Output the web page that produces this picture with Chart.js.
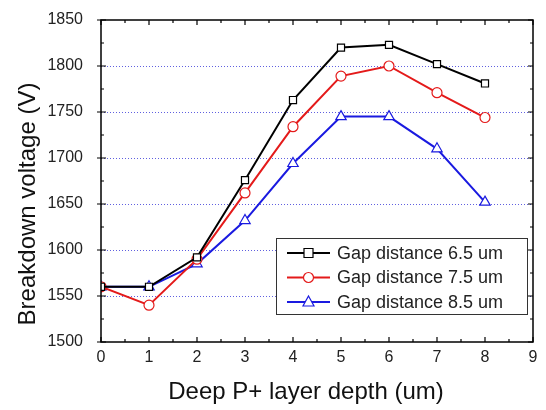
<!DOCTYPE html>
<html>
<head>
<meta charset="utf-8">
<script src="https://cdn.jsdelivr.net/npm/chart.js@4/dist/chart.umd.min.js"></script>
<style>
  html, body { margin: 0; padding: 0; background: #fff; }
  #wrap { width: 546px; height: 410px; }
</style>
</head>
<body>
<div id="wrap"><canvas id="bvChart" width="546" height="410"></canvas></div>
<script>
const depths = [0, 1, 2, 3, 4, 5, 6, 7, 8];
const gap65 = [1560, 1560, 1592, 1676, 1763, 1820, 1823, 1802, 1781];
const gap75 = [1560, 1540, 1590, 1662, 1734, 1789, 1800, 1771, 1744];
const gap85 = [1560, 1560, 1585, 1632, 1694, 1745, 1745, 1710, 1652];
const seriesLabels = ["Gap distance 6.5 um", "Gap distance 7.5 um", "Gap distance 8.5 um"];
const yTicks = [1500, 1550, 1600, 1650, 1700, 1750, 1800, 1850];
const xTicks = [0, 1, 2, 3, 4, 5, 6, 7, 8, 9];
const xTitle = "Deep P+ layer depth (um)";
const yTitle = "Breakdown voltage (V)";

const font = "'Liberation Sans', Arial, sans-serif";

function toPoints(vals) {
    return depths.map((d, i) => ({ x: d, y: vals[i] }));
}

// frame, inward ticks, axis titles and in-plot legend
const framePlugin = {
    id: "frame",
    afterDraw(chart) {
        const ctx = chart.ctx;
        const a = chart.chartArea;
        const xs = chart.scales.x;
        const ys = chart.scales.y;
        ctx.save();
        ctx.strokeStyle = "#000";
        ctx.lineWidth = 1.5;
        ctx.strokeRect(a.left, a.top, a.right - a.left, a.bottom - a.top);

        ctx.lineWidth = 1.2;
        ctx.beginPath();
        for (let v = 0; v <= 9; v += 0.5) {
            const px = xs.getPixelForValue(v);
            const len = Number.isInteger(v) ? 5 : 3;
            ctx.moveTo(px, a.bottom); ctx.lineTo(px, a.bottom - len);
            ctx.moveTo(px, a.top); ctx.lineTo(px, a.top + len);
        }
        for (let v = 1500; v <= 1850; v += 25) {
            const py = ys.getPixelForValue(v);
            const len = v % 50 === 0 ? 5 : 3;
            ctx.moveTo(a.left, py); ctx.lineTo(a.left + len, py);
            ctx.moveTo(a.right, py); ctx.lineTo(a.right - len, py);
            if (v % 50 === 0) { ctx.moveTo(a.left, py); ctx.lineTo(a.left - 4, py); }
        }
        ctx.stroke();

        // axis titles
        ctx.fillStyle = "#111";
        ctx.font = "24px " + font;
        ctx.textAlign = "center";
        ctx.textBaseline = "middle";
        ctx.fillText(xTitle, 306, 392);
        ctx.save();
        ctx.translate(28, 204);
        ctx.rotate(-Math.PI / 2);
        ctx.fillText(yTitle, 0, 0);
        ctx.restore();

        // legend box
        const bx = 276, by = 238, bw = 251, bh = 76;
        ctx.fillStyle = "#fff";
        ctx.fillRect(bx, by, bw, bh);
        ctx.strokeStyle = "#333";
        ctx.lineWidth = 1;
        ctx.strokeRect(bx + 0.5, by + 0.5, bw, bh);
        ctx.textAlign = "left";
        chart.data.datasets.forEach((ds, i) => {
            const cy = by + 15 + i * 24.5;
            ctx.strokeStyle = ds.borderColor;
            ctx.lineWidth = 2;
            ctx.beginPath();
            ctx.moveTo(bx + 11, cy); ctx.lineTo(bx + 54, cy);
            ctx.stroke();
            ctx.fillStyle = "#fff";
            ctx.lineWidth = 1.2;
            const mx = bx + 32.5;
            ctx.beginPath();
            if (ds.pointStyle === "rect") {
                ctx.rect(mx - 4.5, cy - 4.5, 9, 9);
            } else if (ds.pointStyle === "circle") {
                ctx.arc(mx, cy, 5, 0, Math.PI * 2);
            } else {
                ctx.moveTo(mx, cy - 6); ctx.lineTo(mx + 5.5, cy + 4); ctx.lineTo(mx - 5.5, cy + 4); ctx.closePath();
            }
            ctx.fill(); ctx.stroke();
            ctx.fillStyle = "#222";
            ctx.font = "18px " + font;
            ctx.textBaseline = "middle";
            ctx.fillText(ds.label, bx + 61, cy + 1);
        });
        ctx.restore();
    }
};

new Chart(document.getElementById("bvChart"), {
    type: "line",
    data: {
        datasets: [
            { label: seriesLabels[0], data: toPoints(gap65), borderColor: "#000", pointStyle: "rect", pointRadius: 5 },
            { label: seriesLabels[1], data: toPoints(gap75), borderColor: "#e41a1a", pointStyle: "circle", pointRadius: 5 },
            { label: seriesLabels[2], data: toPoints(gap85), borderColor: "#1a1ae0", pointStyle: "triangle", pointRadius: 6 }
        ].map(d => Object.assign(d, {
            backgroundColor: "#fff",
            pointBackgroundColor: "#fff",
            pointBorderWidth: 1.2,
            borderWidth: 2,
            tension: 0
        }))
    },
    options: {
        responsive: false,
        animation: false,
        layout: { padding: { top: 20, right: 13, left: 0, bottom: 0 } },
        plugins: { legend: { display: false }, tooltip: { enabled: false } },
        scales: {
            x: {
                type: "linear",
                min: 0, max: 9,
                afterBuildTicks: s => { s.ticks = xTicks.map(v => ({ value: v })); },
                afterFit: s => { s.height = 68; s.paddingLeft = 0; s.paddingRight = 0; },
                grid: { display: false, drawTicks: false },
                border: { display: false },
                ticks: { color: "#222", font: { family: font, size: 16 }, padding: 6, callback: v => String(v) }
            },
            y: {
                min: 1500, max: 1850,
                afterBuildTicks: s => { s.ticks = yTicks.map(v => ({ value: v })); },
                afterFit: s => { s.width = 101; s.paddingTop = 0; s.paddingBottom = 0; },
                grid: {
                    drawTicks: false,
                    color: ctx => (ctx.tick && ctx.tick.value > 1500 && ctx.tick.value < 1850) ? "#6060e0" : "rgba(0,0,0,0)",
                    lineWidth: 1
                },
                border: { display: false, dash: [1, 2] },
                ticks: { color: "#222", font: { family: font, size: 16 }, padding: 18, callback: v => String(v) }
            }
        }
    },
    plugins: [framePlugin]
});
</script>
</body>
</html>
